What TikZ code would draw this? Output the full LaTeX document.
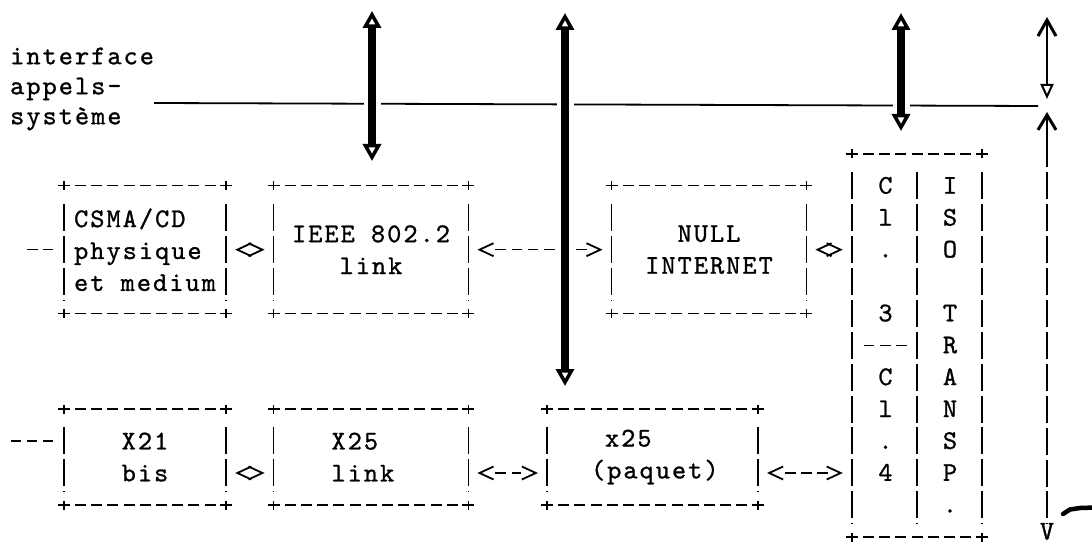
\documentclass[tikz,border=0pt]{standalone}
\usepackage{fontspec}
\newfontfamily\asciifont{lmmono10-regular.otf}[LetterSpace=7.5, FakeBold=1]
\usepackage{tikz}
\usetikzlibrary{arrows.meta, calc, positioning}

\tikzset{
  panel/.style={font=\asciifont\fontsize{27pt}{31.9pt}\selectfont, inner sep=0pt, minimum height=127.6pt, align=center},
  glyph/.style={font=\asciifont\fontsize{27pt}{31.9pt}\selectfont, inner sep=0pt, anchor=base},
  hdash/.style={line width=1.5pt, dash pattern=on 11pt off 5.2pt, dash phase=11pt, shorten <=6pt, shorten >=6pt},
  vbar/.style={line width=1.6pt, dash pattern=on 27pt off 4.9pt, dash phase=27pt, shorten <=13.5pt, shorten >=13.5pt},
  hyph/.style={line width=1.5pt, dash pattern=on 10.5pt off 5.7pt},
  plusmark/.style={line width=1.5pt},
  chev/.tip={Straight Barb[length=14pt,width=13pt,line width=1.8pt]},
  chevrons/.style={chev-chev, line width=1.5pt, dash pattern=on 0pt off 300pt, shorten <=9pt, shorten >=9pt},
  sysio/.style={line width=8pt, {Triangle[open,length=17pt,width=18pt,line width=3.5pt]}-{Triangle[open,length=17pt,width=18pt,line width=3.5pt]}, preaction={draw=white, line width=17pt, -}}
}

\begin{document}
\begin{tikzpicture}[x=1pt, y=-1pt]
  \useasboundingbox (0,0) rectangle (1092,545);

  % libelle et ligne de l'interface
  \node[font=\asciifont\fontsize{27pt}{30pt}\selectfont, align=left, anchor=west, inner sep=0pt] (callif) at (10,89) {interface\\appels-\\système};
  \coordinate (ifl) at (154,103);
  \coordinate (ifr) at (1038,106);
  \draw[line width=1.8pt] (ifl) -- (ifr);

  % couches du haut
  \node[panel, minimum width=162pt, align=left] (csma) at (145,249.7) {CSMA/CD\\physique\\et medium};
  \node[panel, minimum width=194.4pt] (ieee) at (371,249.7) {IEEE 802.2\\link};
  \node[panel, minimum width=194.4pt] (nullip) at (709,249.7) {NULL\\INTERNET};
  \node[panel, minimum width=130pt, minimum height=382.8pt] (clbox) at (917,345.4) {};

  % couches du bas
  \node[panel, minimum width=162pt, minimum height=95.7pt] (x21) at (145,457.05) {X21\\bis};
  \node[panel, minimum width=194.4pt, minimum height=95.7pt, text width=79pt, align=left] (xlink) at (371,457.05) {X25\\link};
  \node[panel, minimum width=210.6pt, minimum height=95.7pt, text width=123pt, align=left] (xpaq) at (652.5,457.05) {\hspace*{14pt}x25\\(paquet)};

  \foreach \bx in {csma,ieee,nullip,clbox,x21,xlink,xpaq} {
    \draw[hdash] (\bx.north west) -- (\bx.north east);
    \draw[hdash] (\bx.south west) -- (\bx.south east);
    \draw[vbar] (\bx.north west) -- (\bx.south west);
    \draw[vbar] (\bx.north east) -- (\bx.south east);
    \foreach \cor in {north west,north east,south west,south east}
      \draw[plusmark] ($(\bx.\cor)+(-6pt,0)$) -- ++(12pt,0) ($(\bx.\cor)+(0,-4.5pt)$) -- ++(0,9pt);
  }

  % colonnes Cl.3 / Cl.4 et ISO TRANSP.
  \draw[vbar] (clbox.north) -- (clbox.south);
  \draw[hyph] ($(clbox.west)+(12pt,0)$) -- ($(clbox.center)+(-10pt,0)$);
  \foreach \ch [count=\rw] in {C,l,.,,3,,C,l,.,4}
    \node[glyph] (cl\rw) at (885.5,{161.8+31.9*\rw}) {\ch};
  \foreach \ch [count=\rw] in {I,S,O,,T,R,A,N,S,P,.}
    \node[glyph] (iso\rw) at (950,{161.8+31.9*\rw}) {\ch};

  % liaisons entre couches
  \coordinate (lead1) at (27,249.7);
  \coordinate (lead2) at (10.5,441.1);
  \coordinate (row10) at (0,473);
  \draw[hyph, shorten >=11pt] (lead1) -- (csma.west);
  \draw[hyph, shorten >=11pt] (lead2) -- (lead2 -| x21.west);
  \draw[chevrons] (csma.east) -- (ieee.west);
  \draw[chevrons] (ieee.east) -- (nullip.west);
  \draw[hyph, shorten <=27pt, shorten >=25pt] (ieee.east) -- (nullip.west);
  \draw[chevrons] (nullip.east) -- (nullip.east -| clbox.west);
  \draw[chevrons] (x21.east |- row10) -- (xlink.west |- row10);
  \draw[chevrons] (xlink.east |- row10) -- (xpaq.west |- row10);
  \draw[hyph, shorten <=27pt, shorten >=26pt] (xlink.east |- row10) -- (xpaq.west |- row10);
  \draw[chevrons] (xpaq.east |- row10) -- (clbox.west |- row10);
  \draw[hyph, shorten <=27pt, shorten >=24pt] (xpaq.east |- row10) -- (clbox.west |- row10);

  % fleche de droite
  \coordinate (sc1) at (1047,17);
  \coordinate (sc2) at (1047,99);
  \coordinate (sc3) at (1047,112);
  \coordinate (sc4) at (1047,167);
  \coordinate (rail) at (1047,154);
  \draw[line width=1.8pt, {Straight Barb[length=16pt,width=18pt,line width=3pt]}-{Triangle[open,length=15pt,width=13pt,line width=2pt]}] (sc1) -- (sc2);
  \draw[line width=2.2pt, {Straight Barb[length=15pt,width=18pt,line width=3pt]}-] (sc3) -- (sc4);
  \draw[vbar] (rail) -- (rail |- clbox.south);
  \node[glyph] (vend) at (1047,539.5) {V};
  \draw[line width=4.5pt, line cap=round, line join=round] (1063,514) -- (1070,509.5) -- (1080,508) -- (1095,507.5);

  % appels systeme
  \coordinate (io1t) at (372,11);
  \coordinate (io1b) at (372,161);
  \coordinate (io2t) at (565,13);
  \coordinate (io2b) at (565,386);
  \coordinate (io3t) at (901,13);
  \coordinate (io3b) at (901,131);
  \foreach \n in {1,2,3}
    \draw[sysio] (io\n t) -- (io\n b);
\end{tikzpicture}
\end{document}
